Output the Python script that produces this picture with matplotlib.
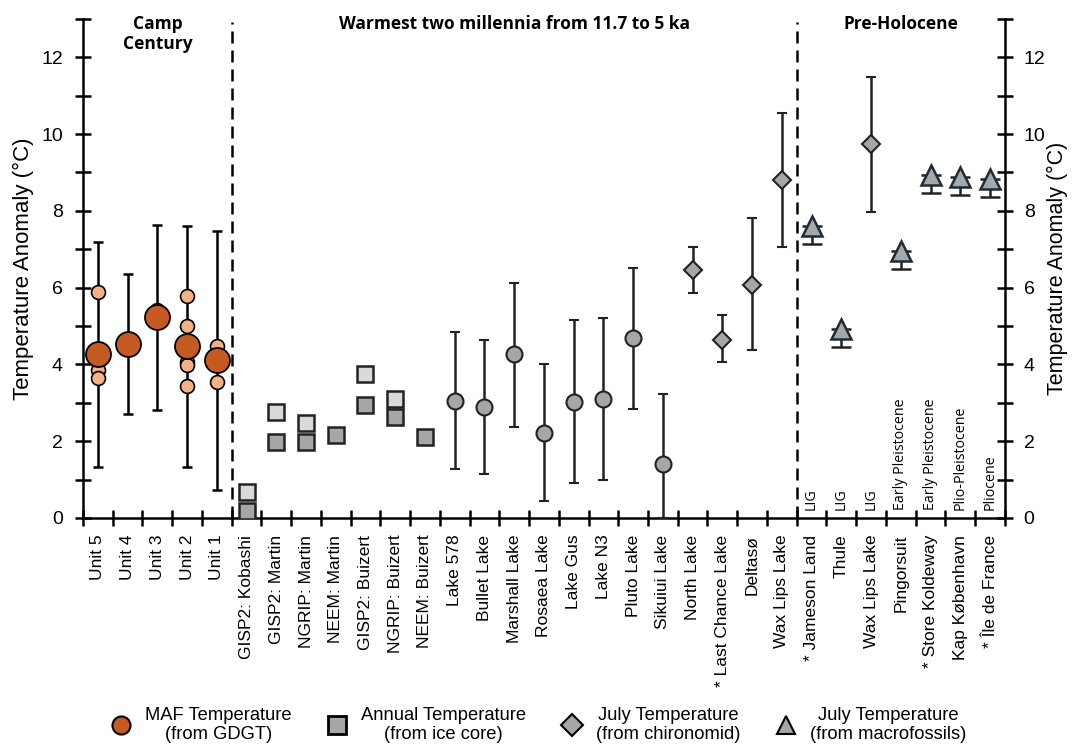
import numpy as np
import matplotlib
matplotlib.use("Agg")
import matplotlib.pyplot as plt
from matplotlib.lines import Line2D

plt.rcParams['font.family'] = ['Liberation Sans', 'DejaVu Sans']

# categorias do eixo x
categorias = ["Unit 5", "Unit 4", "Unit 3", "Unit 2", "Unit 1",
              "GISP2: Kobashi", "GISP2: Martin", "NGRIP: Martin", "NEEM: Martin",
              "GISP2: Buizert", "NGRIP: Buizert", "NEEM: Buizert",
              "Lake 578", "Bullet Lake", "Marshall Lake", "Rosaea Lake", "Lake Gus",
              "Lake N3", "Pluto Lake", "Sikuiui Lake", "North Lake",
              "* Last Chance Lake", "Deltasø", "Wax Lips Lake",
              "* Jameson Land", "Thule", "Wax Lips Lake", "Pingorsuit",
              "* Store Koldeway", "Kap København", "* Île de France"]

# Camp Century (GDGT)
unit_idx = [0, 1, 2, 3, 4]
unit_media = [4.27, 4.54, 5.23, 4.48, 4.11]
unit_max = [7.18, 6.36, 7.63, 7.61, 7.47]
unit_min = [1.32, 2.72, 2.80, 1.32, 0.74]
unit_amostras = [[5.89, 4.05, 3.85, 3.65], [], [5.42], [5.77, 5.01, 4.07, 3.99, 3.45], [4.48, 3.53]]

# testemunhos de gelo
gelo_idx = [5, 6, 7, 8, 9, 10, 11]
gelo_claro = [0.67, 2.77, 2.47, np.nan, 3.75, 3.10, np.nan]
gelo_escuro = [0.19, 1.97, 1.98, 2.15, 2.94, 2.64, 2.12]

# lagos (circulos cinza)
lago_idx = [12, 13, 14, 15, 16, 17, 18, 19]
lago_media = [3.06, 2.90, 4.26, 2.21, 3.03, 3.10, 4.68, 1.41]
lago_max = [4.84, 4.64, 6.11, 4.00, 5.15, 5.22, 6.51, 3.23]
lago_min = [1.27, 1.14, 2.38, 0.43, 0.91, 1.00, 2.85, 0.00]

# chironomideos (losangos)
chiro_idx = [20, 21, 22, 23, 26]
chiro_media = [6.45, 4.64, 6.08, 8.80, 9.74]
chiro_max = [7.07, 5.28, 7.82, 10.54, 11.49]
chiro_min = [5.86, 4.06, 4.37, 7.07, 7.98]

# macrofosseis (triangulos)
macro_idx = [24, 25, 27, 28, 29, 30]
macro_media = [7.60, 4.92, 6.96, 8.93, 8.89, 8.84]
macro_min = [7.13, 4.46, 6.48, 8.46, 8.40, 8.36]

# idades pre-holoceno
idade_idx = [24, 25, 26, 27, 28, 29, 30]
idade_txt = ["LIG", "LIG", "LIG", "Early Pleistocene", "Early Pleistocene",
             "Plio-Pleistocene", "Pliocene"]

laranja = "#C55A23"
laranja_claro = "#F4B183"
cinza = "#A6A6A6"
cinza_claro = "#D9D9D9"
tri_cor = "#A5A8AB"
tri_borda = "#1F2B36"

fig = plt.figure(figsize=(10.72, 7.45), dpi=100)
ax = fig.add_axes([0.0774, 0.3047, 0.86, 0.67])

x_cat = np.arange(len(categorias)) + 0.5

# Camp Century
xu = x_cat[unit_idx]
ux_err = [np.array(unit_media) - np.array(unit_min), np.array(unit_max) - np.array(unit_media)]
ax.errorbar(xu, unit_media, yerr=ux_err, fmt='none', ecolor='black', elinewidth=1.8,
            capsize=3.6, capthick=1.8, zorder=2)
for i, vals in enumerate(unit_amostras):
    if vals:
        ax.plot([xu[i]] * len(vals), vals, 'o', ms=10, mfc=laranja_claro, mec='black',
                mew=1.2, zorder=3)
ax.plot(xu, unit_media, 'o', ms=18, mfc=laranja, mec='black', mew=1.3, zorder=4)

# testemunhos de gelo
xg = x_cat[gelo_idx]
ax.plot(xg, gelo_claro, 's', ms=11.5, mfc=cinza_claro, mec='#222222', mew=1.8, zorder=3)
ax.plot(xg, gelo_escuro, 's', ms=11.5, mfc=cinza, mec='#222222', mew=1.8, zorder=3)

# lagos
xl = x_cat[lago_idx]
lx_err = [np.array(lago_media) - np.array(lago_min), np.array(lago_max) - np.array(lago_media)]
ax.errorbar(xl, lago_media, yerr=lx_err, fmt='o', ms=11.5, mfc=cinza, mec='#222222', mew=1.5,
            ecolor='#222222', elinewidth=1.8, capsize=3.6, capthick=1.8, zorder=3)

# chironomideos
xc = x_cat[chiro_idx]
cx_err = [np.array(chiro_media) - np.array(chiro_min), np.array(chiro_max) - np.array(chiro_media)]
ax.errorbar(xc, chiro_media, yerr=cx_err, fmt='D', ms=9.5, mfc=cinza, mec='#222222', mew=1.5,
            ecolor='#222222', elinewidth=1.8, capsize=3.6, capthick=1.8, zorder=3)

# macrofosseis
xm = x_cat[macro_idx]
mx_err = [np.array(macro_media) - np.array(macro_min), np.zeros(len(macro_media))]
ax.errorbar(xm, macro_media, yerr=mx_err, fmt='none', ecolor='#222222', elinewidth=1.8,
            capsize=7, capthick=1.8, zorder=2)
ax.plot(xm, macro_media, '^', ms=14, mfc=tri_cor, mec=tri_borda, mew=1.8, zorder=3)

# linhas tracejadas separando os grupos
for xv in [5, 24]:
    ax.plot([xv, xv], [0, 12.93], ls=(0, (4.8, 2.8)), color='black', lw=1.8, zorder=1)

# titulos dos grupos
titulo_fonte = dict(fontsize=12.5, fontweight='bold', family=['Open Sans', 'DejaVu Sans'])
ax.text(2.5, 12.6, "Camp\nCentury", ha='center', va='center', linespacing=1.15, **titulo_fonte)
ax.text(14.5, 12.86, "Warmest two millennia from 11.7 to 5 ka", ha='center', va='center',
        **titulo_fonte)
ax.text(27.5, 12.86, "Pre-Holocene", ha='center', va='center', **titulo_fonte)

for i, t in zip(idade_idx, idade_txt):
    ax.text(x_cat[i], 0.22, t, rotation=90, ha='center', va='bottom', fontsize=10.3,
            family=['Open Sans', 'DejaVu Sans'])

ax.set_xlim(0, len(categorias))
ax.set_ylim(0, 13)

ax.set_xticks(np.arange(len(categorias) + 1))
ax.set_xticklabels([])
ax.set_xticks(x_cat, minor=True)
ax.set_xticklabels(categorias, minor=True, rotation=90, fontsize=12.5, va='top')
ax.tick_params(axis='x', which='major', direction='inout', length=11, width=1.8)
ax.tick_params(axis='x', which='minor', length=0, pad=12)

ax.set_yticks(np.arange(0, 13, 2))
ax.set_yticks(np.arange(1, 14, 2), minor=True)
ax.tick_params(axis='y', which='both', direction='inout', length=11, width=1.8,
               labelsize=14, pad=9)

ax.spines['top'].set_visible(False)
ax.spines['right'].set_visible(False)
for s in ['left', 'bottom']:
    ax.spines[s].set_linewidth(1.8)
ax.set_ylabel("Temperature Anomaly (°C)", fontsize=16, labelpad=5)

ax2 = ax.twinx()
ax2.set_ylim(0, 13)
ax2.set_yticks(np.arange(0, 13, 2))
ax2.set_yticks(np.arange(1, 14, 2), minor=True)
ax2.tick_params(axis='y', which='both', direction='inout', length=11, width=1.8,
                labelsize=14, pad=8)
for s in ['top', 'left', 'bottom']:
    ax2.spines[s].set_visible(False)
ax2.spines['right'].set_linewidth(1.8)
ax2.set_ylabel("Temperature Anomaly (°C)", fontsize=15.5, labelpad=1)

# legenda
handles = [
    Line2D([], [], ls='none', marker='o', ms=13, mfc=laranja, mec='black', mew=1.5),
    Line2D([], [], ls='none', marker='s', ms=13, mfc=cinza, mec='black', mew=2),
    Line2D([], [], ls='none', marker='D', ms=11, mfc=cinza, mec='black', mew=1.5),
    Line2D([], [], ls='none', marker='^', ms=13, mfc=cinza, mec='black', mew=1.5),
]
rotulos = ["MAF Temperature\n(from GDGT)", "Annual Temperature\n(from ice core)",
           "July Temperature\n(from chironomid)", "July Temperature\n(from macrofossils)"]
leg = fig.legend(handles, rotulos, loc='center', bbox_to_anchor=(0.503, 0.027), ncol=4,
                 frameon=False, columnspacing=2.0, handletextpad=0.8, handlelength=1.0,
                 prop={'size': 13.2})
for t in leg.get_texts():
    t.set_multialignment('center')

fig.savefig("out.png", dpi=100)
